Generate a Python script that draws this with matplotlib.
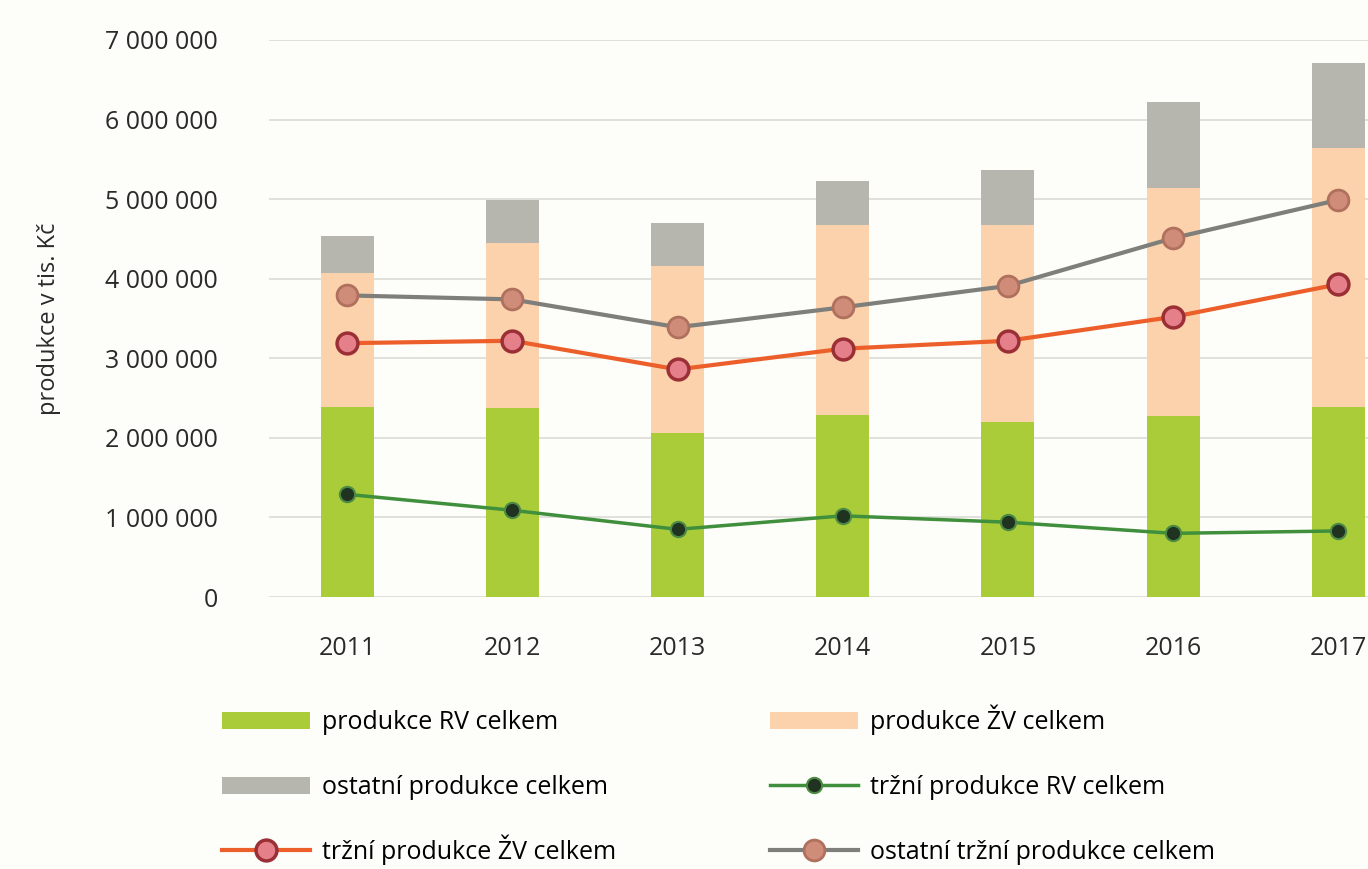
import matplotlib.pyplot as plt
from matplotlib.ticker import FuncFormatter

# --- data (tis. Kč) ---
roky = ["2011", "2012", "2013", "2014", "2015", "2016", "2017"]
produkce_rv = [2390000, 2370000, 2060000, 2290000, 2200000, 2270000, 2390000]
produkce_zv = [1680000, 2080000, 2100000, 2380000, 2470000, 2870000, 3250000]
ostatni_produkce = [470000, 540000, 540000, 560000, 690000, 1080000, 1070000]
trzni_rv = [1290000, 1090000, 850000, 1020000, 940000, 800000, 830000]
trzni_zv = [3190000, 3220000, 2860000, 3120000, 3220000, 3520000, 3930000]
ostatni_trzni = [3790000, 3740000, 3390000, 3640000, 3910000, 4510000, 4990000]

plt.rcParams['font.family'] = ['Open Sans', 'DejaVu Sans']

fig = plt.figure(figsize=(13.68, 8.69), dpi=100)
fig.patch.set_facecolor('#fdfdf9')
ax = fig.add_axes([0.197, 0.313, 0.803, 0.641])
ax.set_facecolor('#fdfdf9')

x = list(range(len(roky)))
w = 0.32
spodek_zv = produkce_rv
spodek_ost = [a + b for a, b in zip(produkce_rv, produkce_zv)]

b1 = ax.bar(x, produkce_rv, w, color='#a9cc38', zorder=2)
b2 = ax.bar(x, produkce_zv, w, bottom=spodek_zv, color='#fbd2ac', zorder=2)
b3 = ax.bar(x, ostatni_produkce, w, bottom=spodek_ost, color='#b6b6ae', zorder=2)

l1, = ax.plot(x, trzni_rv, color='#3f8f3c', lw=2.5, marker='o', ms=11,
              mfc='#1f3320', mec='#4c8a45', mew=1.5, zorder=4)
l2, = ax.plot(x, trzni_zv, color='#ec5f2a', lw=3, marker='o', ms=15,
              mfc='#e57f8a', mec='#9b2f36', mew=2.5, zorder=4)
l3, = ax.plot(x, ostatni_trzni, color='#7e7e7a', lw=3, marker='o', ms=15,
              mfc='#cf8c78', mec='#b0705e', mew=2, zorder=4)

ax.set_xlim(-0.47, 6.18)
ax.set_ylim(0, 7000000)
ax.set_yticks(range(0, 7000001, 1000000))
ax.yaxis.set_major_formatter(FuncFormatter(lambda v, p: f"{int(v):,}".replace(",", " ")))
ax.set_xticks(x)
ax.set_xticklabels(roky)
ax.grid(axis='y', color='#dcdcd6', lw=1.2, zorder=0)
for s in ax.spines.values():
    s.set_visible(False)
ax.tick_params(axis='both', length=0, labelsize=18, colors='#2a2a2a')
ax.tick_params(axis='y', pad=37)
ax.tick_params(axis='x', pad=28)
ax.set_ylabel("produkce v tis. Kč", fontsize=17, color='#2a2a2a', labelpad=32)

# legenda: 3 řádky x 2 sloupce, každá položka zvlášť, aby řádky seděly
polozky = [(b1, "produkce RV celkem"), (b2, "produkce ŽV celkem"),
           (b3, "ostatní produkce celkem"), (l1, "tržní produkce RV celkem"),
           (l2, "tržní produkce ŽV celkem"), (l3, "ostatní tržní produkce celkem")]
sloupce_x = [0.1623, 0.5629]
radky_y = [0.1542, 0.0794, 0.0046]
for i, (h, t) in enumerate(polozky):
    fig.legend([h], [t], loc='lower left',
               bbox_to_anchor=(sloupce_x[i % 2], radky_y[i // 2]),
               frameon=False, fontsize=18, handlelength=3.5, handleheight=0.7,
               handletextpad=0.5, borderpad=0, borderaxespad=0)

fig.savefig("out.png", dpi=100, facecolor=fig.get_facecolor())
